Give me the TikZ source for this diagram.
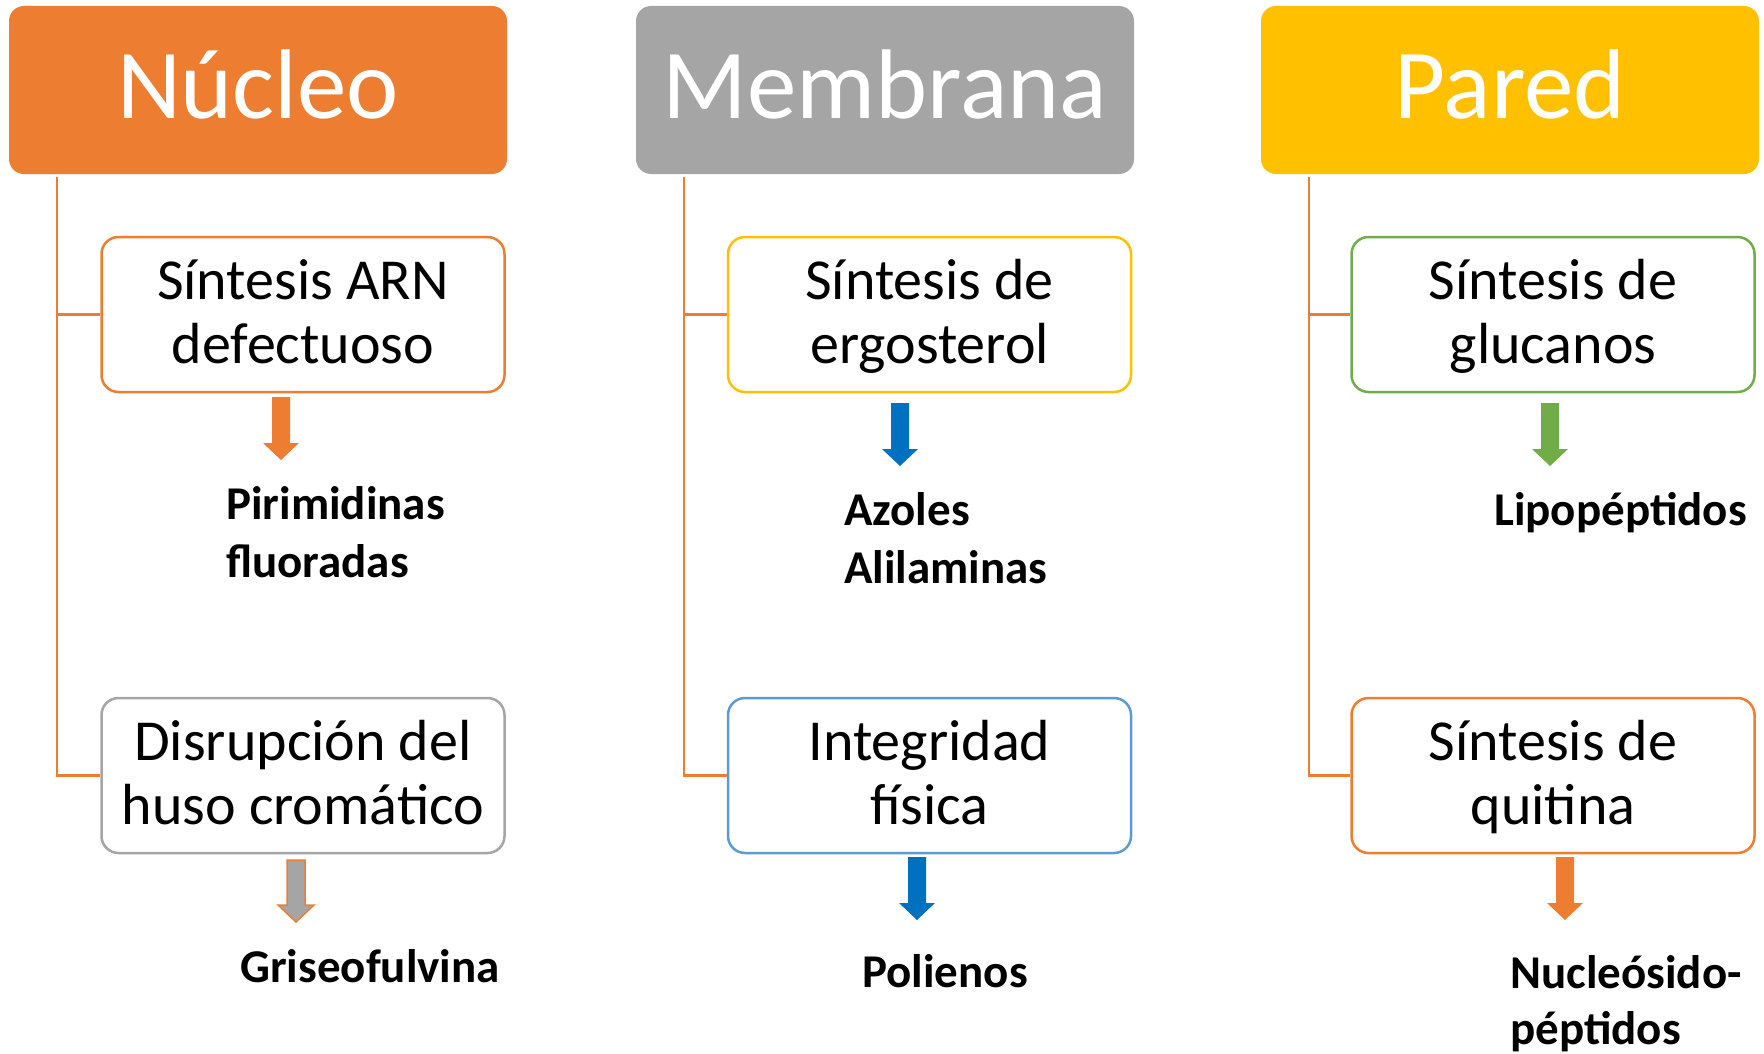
\documentclass[tikz,border=0pt]{standalone}
\usepackage{fontspec}
\setmainfont{Carlito}
\definecolor{orng}{HTML}{ED7D31}
\definecolor{gry}{HTML}{A5A5A5}
\definecolor{gold}{HTML}{FFC000}
\definecolor{blu}{HTML}{0070C0}
\definecolor{lblu}{HTML}{5B9BD5}
\definecolor{grn}{HTML}{70AD47}
\begin{document}
\begin{tikzpicture}[x=1pt,y=-1pt,
  titlebox/.style={fill=#1, rounded corners=15pt, minimum width=498pt, minimum height=168pt, inner sep=0pt},
  subbox/.style={draw=#1, line width=2.5pt, rounded corners=17pt, minimum width=403pt, minimum height=155pt, fill=white, inner sep=0pt},
  conn/.style={draw=orng, line width=2.5pt},
  ttxt/.style={font=\fontsize{99}{119}\selectfont, text=white, anchor=base, inner sep=0pt},
  btxt/.style={font=\fontsize{58}{64}\selectfont, anchor=base, inner sep=0pt},
  lab/.style={font=\fontsize{47}{57}\selectfont\bfseries, anchor=base west, inner sep=0pt},
  blockarrow/.style={fill=#1, draw=none}
]
\useasboundingbox (0,0) rectangle (1764,1054);

% title boxes
\node[titlebox=orng] (nuc) at (258,90) {};
\node[titlebox=gry]  (mem) at (885,90) {};
\node[titlebox=gold] (par) at (1510,90) {};
\node[ttxt] (nuct) at ([yshift=-29pt]nuc.center) {Núcleo};
\node[ttxt] (memt) at ([yshift=-29pt]mem.center) {Membrana};
\node[ttxt] (part) at ([yshift=-29pt]par.center) {Pared};

% sub boxes
\node[subbox=orng] (n1) at (303,314.5) {};
\node[subbox=gry]  (n2) at (303,775.5) {};
\node[subbox=gold] (m1) at (929.5,314.5) {};
\node[subbox=lblu] (m2) at (929.5,775.5) {};
\node[subbox=grn]  (p1) at (1553,314.5) {};
\node[subbox=orng] (p2) at (1553,775.5) {};

% connectors
\coordinate (nl) at ([xshift=48pt,yshift=-3pt]nuc.south west);
\coordinate (ml) at ([xshift=48pt,yshift=-3pt]mem.south west);
\coordinate (pl) at ([xshift=48pt,yshift=-3pt]par.south west);
\draw[conn] (nl) |- (n2.west);
\draw[conn] (nl |- n1.west) -- (n1.west);
\draw[conn] (ml) |- (m2.west);
\draw[conn] (ml |- m1.west) -- (m1.west);
\draw[conn] (pl) |- (p2.west);
\draw[conn] (pl |- p1.west) -- (p1.west);

% box texts
\node[btxt] (n1a) at ([yshift=15.5pt]n1.center) {Síntesis ARN};
\node[btxt] (n1b) at ([yshift=-48.5pt]n1.center) {defectuoso};
\node[btxt] (n2a) at ([yshift=15.5pt]n2.center) {Disrupción del};
\node[btxt] (n2b) at ([yshift=-48.5pt]n2.center) {huso cromático};
\node[btxt] (m1a) at ([yshift=15.5pt]m1.center) {Síntesis de};
\node[btxt] (m1b) at ([yshift=-48.5pt]m1.center) {ergosterol};
\node[btxt] (m2a) at ([yshift=15.5pt]m2.center) {Integridad};
\node[btxt] (m2b) at ([yshift=-48.5pt]m2.center) {física};
\node[btxt] (p1a) at ([yshift=15.5pt]p1.center) {Síntesis de};
\node[btxt] (p1b) at ([yshift=-48.5pt]p1.center) {glucanos};
\node[btxt] (p2a) at ([yshift=15.5pt]p2.center) {Síntesis de};
\node[btxt] (p2b) at ([yshift=-48.5pt]p2.center) {quitina};

% block arrows
\coordinate (a1) at (281,397);
\coordinate (a2) at (296,860);
\coordinate (b1) at (900,403);
\coordinate (b2) at (917,857);
\coordinate (c1) at (1550,403);
\coordinate (c2) at (1565,857);
\draw[blockarrow=orng] (a1) ++(-9,0) -- ++(18,0) -- ++(0,46) -- ++(9,0) -- ++(-18,17) -- ++(-18,-17) -- ++(9,0) -- cycle;
\draw[fill=gry, draw=orng, line width=1.5pt] (a2) ++(-9,0) -- ++(18,0) -- ++(0,45) -- ++(9,0) -- ++(-18,17) -- ++(-18,-17) -- ++(9,0) -- cycle;
\draw[blockarrow=blu] (b1) ++(-9,0) -- ++(18,0) -- ++(0,46) -- ++(9,0) -- ++(-18,17) -- ++(-18,-17) -- ++(9,0) -- cycle;
\draw[blockarrow=blu] (b2) ++(-9,0) -- ++(18,0) -- ++(0,46) -- ++(9,0) -- ++(-18,17) -- ++(-18,-17) -- ++(9,0) -- cycle;
\draw[blockarrow=grn] (c1) ++(-9,0) -- ++(18,0) -- ++(0,46) -- ++(9,0) -- ++(-18,17) -- ++(-18,-17) -- ++(9,0) -- cycle;
\draw[blockarrow=orng] (c2) ++(-9,0) -- ++(18,0) -- ++(0,46) -- ++(9,0) -- ++(-18,17) -- ++(-18,-17) -- ++(9,0) -- cycle;

% labels
\node[lab] (l1a) at (226,519) {Pirimidinas};
\node[lab] (l1b) at (226,577) {fluoradas};
\node[lab] (l2)  at (240,982) {Griseofulvina};
\node[lab] (l3a) at (844,525) {Azoles};
\node[lab] (l3b) at (844,583) {Alilaminas};
\node[lab] (l4)  at (862,987) {Polienos};
\node[lab] (l5)  at (1494,525) {Lipopéptidos};
\node[lab] (l6a) at (1510,988) {Nucleósido-};
\node[lab] (l6b) at (1510,1044) {péptidos};
\end{tikzpicture}
\end{document}
